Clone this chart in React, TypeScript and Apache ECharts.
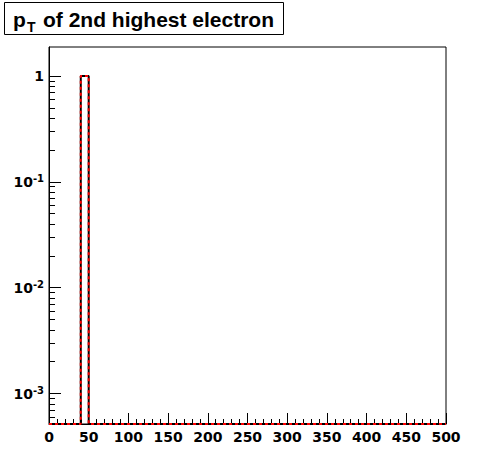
import React, { useEffect, useRef } from 'react';
import * as echarts from 'echarts';

// ---- data ----
const TITLE_MAIN = 'p';
const TITLE_SUB = 'T';
const TITLE_REST = 'of 2nd highest electron';

const X_MIN = 0;
const X_MAX = 500;
const BIN_WIDTH = 10;
// normalized counts per 10-unit bin, 0..500
const COUNTS = [
  0, 0, 0, 0, 1, 0, 0, 0, 0, 0,
  0, 0, 0, 0, 0, 0, 0, 0, 0, 0,
  0, 0, 0, 0, 0, 0, 0, 0, 0, 0,
  0, 0, 0, 0, 0, 0, 0, 0, 0, 0,
  0, 0, 0, 0, 0, 0, 0, 0, 0, 0,
];
const Y_RANGE = [5.15e-4, 1.88];
const Y_MAJOR_EXPONENTS = [-3, -2, -1, 0];
const Y_MINOR_MULTIPLIERS = [2, 3, 4, 5, 6, 7, 8, 9];

const LABEL_FONT = 'DejaVu Sans';
const TITLE_FONT = 'Liberation Sans';

export default function App() {
  const ref = useRef<HTMLDivElement>(null);

  useEffect(() => {
    if (!ref.current) return;
    const chart = echarts.init(ref.current, undefined, { renderer: 'svg' });

    const yMin = Math.log10(Y_RANGE[0]);
    const yMax = Math.log10(Y_RANGE[1]);

    const pts: number[][] = [];
    COUNTS.forEach((c, i) => {
      const x0 = X_MIN + i * BIN_WIDTH;
      const x1 = x0 + BIN_WIDTH;
      const y = c > 0 ? Math.log10(c) : yMin;
      pts.push([x0, y], [x1, y]);
    });

    const minorVals: number[] = [];
    for (let e = -5; e <= 1; e++) {
      Y_MINOR_MULTIPLIERS.forEach((m) => {
        const v = Math.log10(m) + e;
        if (v > yMin && v < yMax) minorVals.push(v);
      });
    }

    const gridPos = { left: 49, right: 50, top: 47, bottom: 48 };

    chart.setOption({
      animation: false,
      backgroundColor: '#fff',
      grid: [
        { ...gridPos, show: true, borderColor: '#000', borderWidth: 1, backgroundColor: 'transparent' },
        { ...gridPos, show: false },
      ],
      xAxis: [
        {
          gridIndex: 0,
          type: 'value',
          min: X_MIN,
          max: X_MAX,
          interval: 50,
          axisLine: { show: true, onZero: false, lineStyle: { color: '#000', width: 1 } },
          axisTick: { show: true, inside: true, length: 11, lineStyle: { color: '#000' } },
          minorTick: { show: true, splitNumber: 5, length: 5, lineStyle: { color: '#000' } },
          splitLine: { show: false },
          axisLabel: {
            margin: 6,
            color: '#000',
            fontFamily: LABEL_FONT,
            fontWeight: 'bold',
            fontSize: 14,
          },
        },
        {
          gridIndex: 1,
          type: 'value',
          min: X_MIN,
          max: X_MAX,
          show: false,
        },
      ],
      yAxis: [
        {
          gridIndex: 0,
          type: 'value',
          min: yMin,
          max: yMax,
          axisLine: { show: true, onZero: false, lineStyle: { color: '#000', width: 1 } },
          axisTick: {
            show: true,
            inside: true,
            length: 12,
            customValues: Y_MAJOR_EXPONENTS,
            lineStyle: { color: '#000' },
          },
          splitLine: { show: false },
          axisLabel: {
            margin: 5,
            customValues: Y_MAJOR_EXPONENTS,
            formatter: (v: number) => {
              const e = Math.round(v);
              if (e === 0) return '{b|1}';
              return `{b|10}{s|${e}}`;
            },
            rich: {
              b: { fontFamily: LABEL_FONT, fontWeight: 'bold', fontSize: 14, color: '#000' },
              s: { fontFamily: LABEL_FONT, fontWeight: 'bold', fontSize: 10, color: '#000', padding: [0, 0, 6, 0] },
            },
          },
        },
        {
          gridIndex: 1,
          type: 'value',
          min: yMin,
          max: yMax,
          axisLine: { show: false },
          axisTick: {
            show: true,
            inside: true,
            length: 6,
            customValues: minorVals,
            lineStyle: { color: '#000' },
          },
          axisLabel: { show: false },
          splitLine: { show: false },
        },
      ],
      series: [
        {
          type: 'line',
          xAxisIndex: 0,
          yAxisIndex: 0,
          data: pts,
          showSymbol: false,
          symbol: 'none',
          clip: false,
          lineStyle: { color: '#000', width: 2 },
        },
        {
          type: 'line',
          xAxisIndex: 0,
          yAxisIndex: 0,
          data: pts,
          showSymbol: false,
          symbol: 'none',
          clip: false,
          lineStyle: { color: '#ff0000', width: 2, type: [3, 3] },
        },
      ],
      graphic: [
        {
          type: 'rect',
          shape: { x: 4.5, y: 2.5, width: 279, height: 32 },
          style: { fill: '#fff', stroke: '#000', lineWidth: 1 },
        },
        {
          type: 'text',
          x: 13,
          y: 19,
          style: {
            text: TITLE_MAIN,
            fontFamily: TITLE_FONT,
            fontWeight: 'bold',
            fontSize: 21,
            fill: '#000',
            verticalAlign: 'middle',
          },
        },
        {
          type: 'text',
          x: 27,
          y: 27,
          style: {
            text: TITLE_SUB,
            fontFamily: TITLE_FONT,
            fontWeight: 'bold',
            fontSize: 14,
            fill: '#000',
            verticalAlign: 'middle',
          },
        },
        {
          type: 'text',
          x: 43,
          y: 19,
          style: {
            text: TITLE_REST,
            fontFamily: TITLE_FONT,
            fontWeight: 'bold',
            fontSize: 21,
            fill: '#000',
            verticalAlign: 'middle',
          },
        },
      ],
    });

    return () => chart.dispose();
  }, []);

  return (
    <div
      ref={ref}
      style={{ position: 'absolute', left: 0, top: 0, width: 496, height: 472, background: '#fff' }}
    />
  );
}
